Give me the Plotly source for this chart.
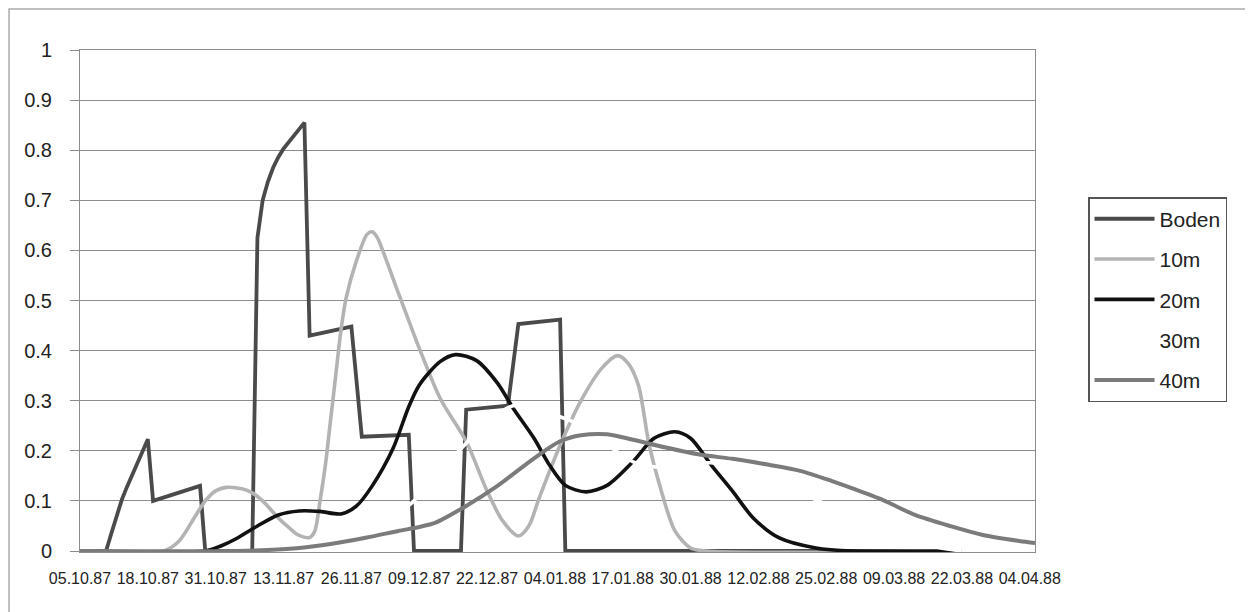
import plotly.graph_objects as go

# ---- axis ticks ----
tick_dates = ["1987-10-05", "1987-10-18", "1987-10-31", "1987-11-13", "1987-11-26",
              "1987-12-09", "1987-12-22", "1988-01-04", "1988-01-17", "1988-01-30",
              "1988-02-12", "1988-02-25", "1988-03-09", "1988-03-22", "1988-04-04"]
tick_labels = ["05.10.87", "18.10.87", "31.10.87", "13.11.87", "26.11.87",
               "09.12.87", "22.12.87", "04.01.88", "17.01.88", "30.01.88",
               "12.02.88", "25.02.88", "09.03.88", "22.03.88", "04.04.88"]

# ---- series: Boden ----
boden_dates = ["1987-10-05", "1987-10-10", "1987-10-11", "1987-10-12", "1987-10-13",
               "1987-10-14", "1987-10-15", "1987-10-16", "1987-10-17", "1987-10-18",
               "1987-10-19", "1987-10-28", "1987-10-29", "1987-11-07", "1987-11-08",
               "1987-11-09", "1987-11-10", "1987-11-11", "1987-11-12", "1987-11-13",
               "1987-11-14", "1987-11-15", "1987-11-16", "1987-11-17",
               "1987-11-18", "1987-11-26", "1987-11-28", "1987-12-07", "1987-12-08",
               "1987-12-17", "1987-12-18", "1987-12-26", "1987-12-28", "1988-01-05",
               "1988-01-06", "1988-03-22"]
boden_vals = [0, 0, 0.035, 0.07, 0.102,
              0.128, 0.152, 0.176, 0.20, 0.223,
              0.10, 0.13, 0, 0, 0.625,
              0.70, 0.737, 0.765, 0.786, 0.803,
              0.816, 0.829, 0.843, 0.855,
              0.43, 0.448, 0.228, 0.232, 0,
              0, 0.282, 0.29, 0.453, 0.462,
              0, 0]

# ---- series: 10m ----
m10_dates = ["1987-10-05", "1987-10-21", "1987-10-24", "1987-10-27", "1987-10-29",
             "1987-10-31", "1987-11-02", "1987-11-05", "1987-11-07", "1987-11-09",
             "1987-11-12", "1987-11-14", "1987-11-16", "1987-11-18", "1987-11-19",
             "1987-11-20", "1987-11-21", "1987-11-22", "1987-11-23", "1987-11-24",
             "1987-11-25", "1987-11-27", "1987-11-29", "1987-11-30", "1987-12-01",
             "1987-12-02", "1987-12-05", "1987-12-07", "1987-12-09", "1987-12-13",
             "1987-12-18", "1987-12-22", "1987-12-25", "1987-12-28", "1987-12-30",
             "1988-01-01", "1988-01-05", "1988-01-09", "1988-01-13", "1988-01-16",
             "1988-01-18", "1988-01-20", "1988-01-22", "1988-01-24", "1988-01-27",
             "1988-01-30", "1988-02-02", "1988-03-22"]
m10_vals = [0, 0, 0.02, 0.068, 0.10,
            0.12, 0.127, 0.124, 0.116, 0.10,
            0.066, 0.047, 0.031, 0.027, 0.04,
            0.10, 0.17, 0.26, 0.35, 0.44,
            0.505, 0.58, 0.632, 0.637, 0.625,
            0.60, 0.515, 0.46, 0.405, 0.305,
            0.219, 0.12, 0.06, 0.03, 0.05,
            0.106, 0.211, 0.30, 0.365, 0.39,
            0.375, 0.331, 0.215, 0.134, 0.04,
            0.006, 0, 0]

# ---- series: 20m ----
m20_dates = ["1987-10-05", "1987-10-29", "1987-11-01", "1987-11-04", "1987-11-08",
             "1987-11-12", "1987-11-16", "1987-11-20", "1987-11-24", "1987-11-27",
             "1987-11-30", "1987-12-04", "1987-12-07", "1987-12-09", "1987-12-13",
             "1987-12-16", "1987-12-20", "1987-12-24", "1987-12-27", "1987-12-31",
             "1988-01-03", "1988-01-06", "1988-01-10", "1988-01-14", "1988-01-19",
             "1988-01-23", "1988-01-27", "1988-01-30", "1988-02-03", "1988-02-07",
             "1988-02-11", "1988-02-16", "1988-02-23", "1988-03-01", "1988-03-22"]
m20_vals = [0, 0, 0.01, 0.025, 0.05,
            0.072, 0.08, 0.079, 0.074, 0.09,
            0.13, 0.205, 0.288, 0.331, 0.378,
            0.392, 0.38, 0.335, 0.285, 0.225,
            0.171, 0.131, 0.118, 0.131, 0.179,
            0.225, 0.238, 0.225, 0.171, 0.12,
            0.066, 0.026, 0.006, 0, 0]

# ---- series: 30m ----
m30_dates = ["1987-10-05", "1987-11-22", "1987-11-28", "1987-12-02", "1987-12-05",
             "1987-12-08", "1987-12-13", "1987-12-18", "1987-12-23", "1987-12-27",
             "1987-12-31", "1988-01-03", "1988-01-07", "1988-01-11", "1988-01-15",
             "1988-01-19", "1988-01-23", "1988-01-29", "1988-02-03", "1988-02-08",
             "1988-02-14", "1988-02-20", "1988-02-24", "1988-03-01", "1988-03-07",
             "1988-03-13", "1988-03-18", "1988-03-22"]
m30_vals = [0, 0, 0.02, 0.05, 0.075,
            0.10, 0.16, 0.215, 0.265, 0.29,
            0.285, 0.275, 0.26, 0.235, 0.205,
            0.178, 0.168, 0.172, 0.176, 0.162,
            0.138, 0.115, 0.098, 0.07, 0.04,
            0.018, 0.006, 0]

# ---- series: 40m ----
m40_dates = ["1987-10-05", "1987-11-04", "1987-11-10", "1987-11-16", "1987-11-22",
             "1987-11-29", "1987-12-05", "1987-12-09", "1987-12-12", "1987-12-18",
             "1987-12-24", "1987-12-31", "1988-01-05", "1988-01-09", "1988-01-14",
             "1988-01-19", "1988-01-25", "1988-02-01", "1988-02-07", "1988-02-14",
             "1988-02-20", "1988-02-26", "1988-03-01", "1988-03-07", "1988-03-13",
             "1988-03-20", "1988-03-26", "1988-04-02", "1988-04-05"]
m40_vals = [0, 0, 0.002, 0.006, 0.014,
            0.027, 0.04, 0.048, 0.056, 0.09,
            0.13, 0.185, 0.219, 0.231, 0.233,
            0.222, 0.207, 0.192, 0.184, 0.172,
            0.16, 0.14, 0.125, 0.101, 0.072,
            0.049, 0.032, 0.02, 0.016]

fig = go.Figure()
fig.add_trace(go.Scatter(x=boden_dates, y=boden_vals, name="Boden", mode="lines",
                         legendgroup="g1", line=dict(color="#4a4a4a", width=3.8)))
fig.add_trace(go.Scatter(x=m10_dates, y=m10_vals, name="10m", mode="lines",
                         legendgroup="g2", line=dict(color="#b3b3b3", width=3.6,
                                                     shape="spline", smoothing=0.8)))
fig.add_trace(go.Scatter(x=m20_dates, y=m20_vals, name="20m", mode="lines",
                         legendgroup="g3", line=dict(color="#111111", width=3.6,
                                                     shape="spline", smoothing=0.8)))
fig.add_trace(go.Scatter(x=m30_dates, y=m30_vals, name="30m", mode="lines",
                         legendgroup="g4", line=dict(color="#ffffff", width=3.6,
                                                     shape="spline", smoothing=0.8)))
fig.add_trace(go.Scatter(x=m40_dates, y=m40_vals, name="40m", mode="lines",
                         legendgroup="g5", line=dict(color="#7b7b7b", width=4,
                                                     shape="spline", smoothing=0.8)))

fig.update_layout(
    width=1245, height=604,
    margin=dict(l=72, r=218, t=42, b=60),
    plot_bgcolor="white", paper_bgcolor="white",
    font=dict(family="Liberation Sans, Arial, sans-serif", color="#222222"),
    legend=dict(x=1.0555, y=0.707, xanchor="left", yanchor="top",
                font=dict(size=21), bordercolor="#555555", borderwidth=1.5,
                bgcolor="white", tracegroupgap=10, itemwidth=60),
    shapes=[dict(type="rect", xref="paper", yref="paper",
                 x0=-0.0743, x1=1.2241, y0=-0.18, y1=1.0817,
                 line=dict(color="#aaaaaa", width=1.5), layer="below")],
)
fig.update_xaxes(type="date", range=["1987-10-05", "1988-04-05"],
                 tickmode="array", tickvals=tick_dates, ticktext=tick_labels,
                 tickfont=dict(size=16), showgrid=False,
                 showline=True, linecolor="#8c8c8c", linewidth=1, mirror=True,
                 ticks="", ticklabelstandoff=12)
fig.update_yaxes(range=[-0.002, 1.0], tick0=0, dtick=0.1,
                 showgrid=True, gridcolor="#8c8c8c", gridwidth=1,
                 showline=True, linecolor="#8c8c8c", linewidth=1, mirror=True,
                 ticks="outside", ticklen=9, tickcolor="#8c8c8c",
                 tickfont=dict(size=20), ticklabelstandoff=14, zeroline=False)

fig.write_html("out.html")
